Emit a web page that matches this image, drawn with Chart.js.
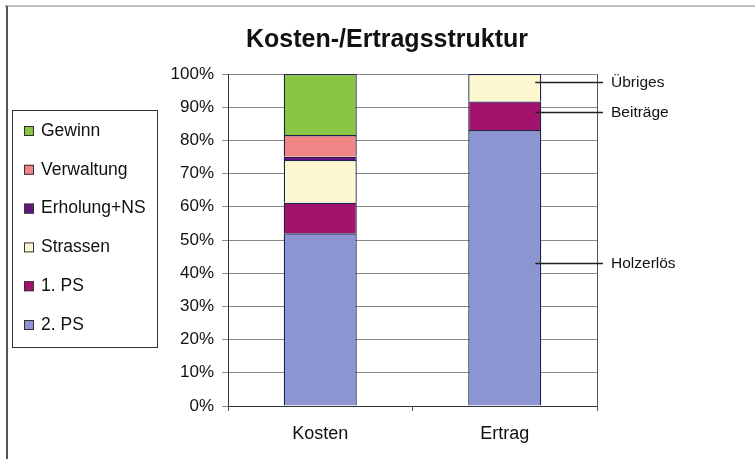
<!DOCTYPE html>
<html><head><meta charset="utf-8">
<script src="https://cdn.jsdelivr.net/npm/chart.js@4/dist/chart.umd.min.js"></script>
<style>html,body{margin:0;padding:0;background:#fff}#wrap{width:755px;height:459px;position:relative}</style>
</head><body><div id="wrap"><canvas id="c" width="755" height="459"></canvas></div>
<script>
const categories = ['Kosten', 'Ertrag'];
const seriesNames = ['2. PS', '1. PS', 'Strassen', 'Erholung+NS', 'Verwaltung', 'Gewinn'];
const ps2 = [52.0, 83.1];
const ps1 = [9.2, 8.6];
const strassen = [12.9, 8.3];
const erholung = [1.0, null];
const verwaltung = [6.5, null];
const gewinn = [18.4, null];
const colors = ['#8c95d1', '#a3126c', '#fdf8d0', '#661480', '#f08585', '#88c543'];
const yTicks = [0, 10, 20, 30, 40, 50, 60, 70, 80, 90, 100];
const chartTitle = 'Kosten-/Ertragsstruktur';
const annoLabels = ['Übriges', 'Beiträge', 'Holzerlös'];
const annoValues = [97.6, 88.5, 43.0];

const FONT = '"Liberation Sans", Arial, sans-serif';
const values = [ps2, ps1, strassen, erholung, verwaltung, gewinn];
const datasets = seriesNames.map((n, i) => ({
  label: n, data: values[i], backgroundColor: colors[i],
  borderColor: '#1c2448', borderWidth: 1.3,
  categoryPercentage: 1, barPercentage: 0.396
}));

const extras = {
  id: 'extras',
  beforeDraw(chart) {
    const ctx = chart.ctx;
    ctx.save();
    ctx.fillStyle = '#fff';
    ctx.fillRect(0, 0, chart.width, chart.height);
    ctx.strokeStyle = '#bdbdbd'; ctx.lineWidth = 2;
    ctx.beginPath(); ctx.moveTo(5, 6); ctx.lineTo(755, 6); ctx.stroke();
    ctx.strokeStyle = '#555'; ctx.lineWidth = 2;
    ctx.beginPath(); ctx.moveTo(7, 6); ctx.lineTo(7, 459); ctx.stroke();
    ctx.restore();
  },
  afterDraw(chart) {
    const ctx = chart.ctx, a = chart.chartArea;
    ctx.save();
    // title
    ctx.fillStyle = '#111';
    ctx.font = 'bold 25px ' + FONT;
    ctx.textAlign = 'center'; ctx.textBaseline = 'middle';
    ctx.fillText(chartTitle, 387, 40);
    // right border of plot
    ctx.strokeStyle = '#555'; ctx.lineWidth = 1;
    ctx.beginPath(); ctx.moveTo(a.right + 0.5, a.top); ctx.lineTo(a.right + 0.5, a.bottom + 4); ctx.stroke();
    // legend box
    ctx.strokeStyle = '#333'; ctx.lineWidth = 1;
    ctx.strokeRect(12.5, 110.5, 145, 237);
    ctx.font = '17.5px ' + FONT;
    ctx.textBaseline = 'middle'; ctx.textAlign = 'left';
    for (let k = 0; k < seriesNames.length; k++) {
      const i = seriesNames.length - 1 - k;
      const y = 131 + k * 38.8;
      ctx.fillStyle = colors[i];
      ctx.fillRect(24, y - 5, 10, 10);
      ctx.strokeStyle = '#333';
      ctx.strokeRect(24.5, y - 4.5, 9, 9);
      ctx.fillStyle = '#111';
      ctx.fillText(seriesNames[i], 41, y);
    }
    // annotations for Ertrag
    const meta = chart.getDatasetMeta(0);
    const bar = meta.data[1];
    const ys = chart.scales.y;
    ctx.strokeStyle = '#222'; ctx.lineWidth = 1.5;
    ctx.fillStyle = '#111';
    ctx.font = '15.5px ' + FONT;
    annoLabels.forEach((lab, j) => {
      const yy = Math.round(ys.getPixelForValue(annoValues[j])) + 0.5;
      const x0 = bar.x + bar.width / 2 - 6;
      ctx.beginPath(); ctx.moveTo(x0, yy); ctx.lineTo(603, yy); ctx.stroke();
      ctx.fillText(lab, 611, yy);
    });
    ctx.restore();
  }
};

new Chart(document.getElementById('c'), {
  type: 'bar',
  data: { labels: categories, datasets },
  options: {
    responsive: false, animation: false,
    layout: { padding: { left: 0, right: 158, top: 74, bottom: 0 } },
    plugins: {
      legend: { display: false },
      tooltip: { enabled: false },
      title: { display: false }
    },
    scales: {
      x: {
        stacked: true,
        afterFit(s) { s.height = 53; },
        grid: { display: true, drawOnChartArea: false, drawTicks: true, tickLength: 5, color: '#555', offset: true },
        border: { display: true, color: '#333', width: 1 },
        ticks: { color: '#111', padding: 12, font: { family: FONT, size: 18 } }
      },
      y: {
        stacked: true, min: 0, max: 100,
        afterFit(s) { s.width = 228; },
        afterBuildTicks(s) { s.ticks = yTicks.map(v => ({ value: v })); },
        grid: { color: '#8a8a8a', lineWidth: 1, drawTicks: true, tickLength: 6 },
        border: { display: true, color: '#333', width: 1 },
        ticks: {
          color: '#111', padding: 8,
          font: { family: FONT, size: 17 },
          callback: v => v + '%'
        }
      }
    }
  },
  plugins: [extras]
});
</script></body></html>
